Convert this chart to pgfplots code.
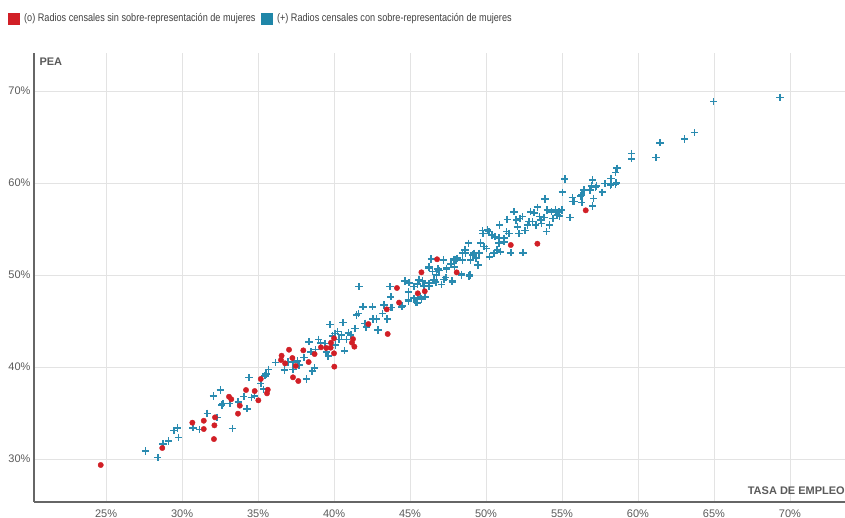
\documentclass[border=0pt]{standalone}
\usepackage{fontspec}
\setmainfont{Liberation Sans}
\newfontfamily\legfont[FakeStretch=0.83]{Liberation Sans}
\usepackage{pgfplots}
\usepackage{pgfplotstable}
\pgfplotsset{compat=1.18}
\definecolor{rojo}{HTML}{D11F26}
\definecolor{azul}{HTML}{2A8BB0}
\definecolor{azulleg}{HTML}{1F86A8}
\definecolor{gridc}{HTML}{E3E3E3}
\definecolor{axc}{HTML}{666666}
\definecolor{txt}{HTML}{5A5A5A}
\pgfplotstableread{
x y
27.59 30.87
28.40 30.18
28.75 31.63
29.10 31.96
29.47 33.08
29.70 33.37
29.76 32.36
30.72 33.40
31.16 33.20
31.66 34.97
32.32 34.53
32.06 36.85
32.52 37.50
32.61 35.87
32.70 36.05
33.14 36.05
33.31 33.33
33.70 36.23
34.06 36.81
34.28 35.47
34.41 38.84
34.56 36.67
34.76 36.88
35.18 38.22
35.35 37.60
35.46 39.05
35.53 39.24
35.68 39.75
36.14 40.50
36.73 39.67
36.97 40.54
37.32 40.54
37.30 39.75
37.59 40.65
37.70 40.20
38.03 41.05
38.36 42.75
38.47 41.66
38.18 38.70
38.57 39.57
38.72 39.92
38.79 41.92
38.97 43.01
39.12 42.64
39.41 42.57
39.49 41.60
39.62 41.20
39.74 44.64
39.89 43.37
40.07 43.66
40.22 43.84
40.11 42.39
40.33 43.01
40.50 43.48
40.59 44.82
40.70 41.77
40.81 43.01
40.94 43.73
41.10 43.48
41.38 44.20
41.47 45.65
41.60 45.83
41.91 46.55
42.04 44.75
42.12 44.32
42.52 46.55
42.57 45.22
42.80 45.22
42.89 44.02
43.18 45.83
43.29 46.74
43.50 45.22
43.73 46.49
44.45 46.55
44.90 47.17
45.48 46.99
41.64 48.73
46.40 51.74
47.21 51.63
48.03 51.63
48.44 51.63
48.66 52.36
49.14 52.17
49.43 51.09
46.25 50.90
46.84 50.65
47.41 50.65
47.93 50.90
46.73 50.00
47.24 49.53
47.78 49.27
48.39 50.00
48.90 49.89
44.67 49.35
44.93 49.16
45.48 49.02
45.81 49.35
46.25 49.10
46.69 49.21
44.89 48.15
45.26 48.73
45.70 47.64
45.41 47.00
46.25 48.80
43.68 48.73
43.73 47.64
44.49 46.63
43.80 46.49
44.89 47.28
44.65 49.38
44.89 47.36
45.26 47.47
45.59 49.46
45.75 47.39
45.92 48.80
45.99 47.64
46.25 50.79
46.47 50.36
46.58 49.46
46.91 50.47
47.06 48.99
47.35 49.75
47.41 50.73
47.78 49.35
47.68 51.20
47.89 51.71
48.11 51.82
48.39 50.08
48.44 52.36
48.62 52.72
48.84 53.45
48.93 50.00
48.99 51.63
49.21 52.36
49.36 51.82
49.54 52.36
49.49 51.09
49.65 53.45
49.80 54.53
49.87 53.08
50.02 52.90
50.20 54.71
50.24 51.99
50.37 54.35
50.53 52.36
50.59 54.16
50.74 52.72
50.86 53.45
50.90 55.43
50.96 52.53
51.18 53.99
51.34 54.71
51.40 56.05
51.51 54.53
51.63 52.42
51.84 56.88
51.99 55.98
52.06 55.25
52.17 54.53
52.22 56.16
52.39 56.34
52.43 52.42
52.57 54.82
52.72 55.43
52.83 55.80
52.94 56.88
53.05 55.80
53.16 56.77
53.27 55.43
53.38 57.36
53.53 56.34
53.66 55.62
53.82 56.27
53.97 54.71
54.03 57.07
54.19 55.43
54.32 56.88
54.41 56.16
54.58 57.07
54.69 56.52
54.80 56.88
54.98 57.07
55.51 56.27
55.68 57.97
56.30 57.86
57.00 57.50
55.18 60.43
55.02 58.99
53.88 58.26
55.68 58.44
55.79 57.97
56.23 58.59
56.27 57.86
56.45 59.24
56.84 59.24
56.93 59.67
57.00 60.33
57.07 58.33
57.20 59.50
57.64 58.99
57.82 59.96
58.24 60.51
58.24 59.89
58.53 61.12
58.64 61.60
58.53 59.89
55.57 56.23
54.84 56.41
49.76 54.82
50.09 54.89
50.41 54.35
50.86 54.05
49.65 53.55
51.18 53.62
53.60 55.98
57.28 59.67
56.30 58.70
58.57 60.03
58.20 60.51
58.20 59.78
58.60 61.60
59.58 62.64
59.58 63.22
61.18 62.75
61.45 64.38
63.07 64.78
63.71 65.47
64.98 68.84
69.34 69.31
}\azuldata
\pgfplotstableread{
x y
24.65 29.35
28.70 31.20
32.10 32.17
30.68 33.95
31.43 34.16
31.43 33.26
32.17 34.53
32.13 33.66
33.09 36.77
33.24 36.50
33.80 35.80
33.68 34.93
34.21 37.50
34.78 37.39
35.02 36.38
35.18 38.70
35.64 37.53
35.59 37.14
37.04 41.88
36.55 41.23
36.51 40.76
37.26 40.98
36.78 40.40
37.48 40.11
37.30 38.88
37.65 38.48
37.98 41.81
38.33 40.54
38.72 41.41
39.14 42.14
39.49 42.07
39.78 42.10
39.80 42.64
40.00 43.12
40.00 41.49
40.02 40.04
41.25 43.04
41.18 42.64
41.34 42.21
42.26 44.67
43.47 46.27
43.53 43.59
44.28 47.00
44.14 48.59
45.51 48.01
45.97 48.23
45.75 50.29
46.78 51.71
48.07 50.29
51.63 53.26
53.38 53.40
56.56 57.03
}\rojodata
\begin{document}
\begin{tikzpicture}[x=1pt,y=1pt]
\useasboundingbox (-34,-16) rectangle (811,502);
\begin{axis}[
  at={(0,0)}, anchor=south west,
  scale only axis, width=811pt, height=449pt,
  xmin=20.26, xmax=73.62, ymin=25.33, ymax=74.13,
  axis x line*=bottom, axis y line*=left,
  axis line style={axc, line width=1.3pt, -},
  xtick={25,30,...,70}, ytick={30,40,...,70},
  major tick length=0pt,
  grid=major, major grid style={gridc, line width=0.9pt},
  tick label style={font=\fontsize{11}{13}\selectfont, text=txt},
  /pgf/number format/assume math mode=true,
  xticklabel={\pgfmathprintnumber{\tick}\%},
  yticklabel={\pgfmathprintnumber{\tick}\%},
  xticklabel style={yshift=-4pt},
  clip=false,
]
\addplot[only marks, mark=+, mark size=3.6pt, azul, line width=1.6pt] table {\azuldata};
\addplot[only marks, mark=*, mark size=2.7pt, rojo, mark options={fill=rojo, draw=rojo}] table {\rojodata};
\node[anchor=north west, font=\fontsize{11}{13}\selectfont\bfseries, text=txt] at (rel axis cs:0,1) [xshift=2pt, yshift=-1pt] {PEA};
\node[anchor=south east, font=\fontsize{11}{13}\selectfont\bfseries, text=txt, inner xsep=0pt] at (rel axis cs:1,0) [yshift=4pt] {TASA DE EMPLEO};
\end{axis}
\fill[rojo] (-26,477) rectangle ++(12,12);
\node[anchor=west, inner xsep=0pt, font=\legfont\fontsize{11}{13}\selectfont, text=black!75] (t1) at (-10,483) {(o) Radios censales sin sobre-representación de mujeres};
\fill[azulleg] ([xshift=5pt]t1.east |- 0,477) rectangle ++(12,12);
\node[anchor=west, inner xsep=0pt, font=\legfont\fontsize{11}{13}\selectfont, text=black!75] at ([xshift=21pt]t1.east |- 0,483) {(+) Radios censales con sobre-representación de mujeres};
\end{tikzpicture}
\end{document}
